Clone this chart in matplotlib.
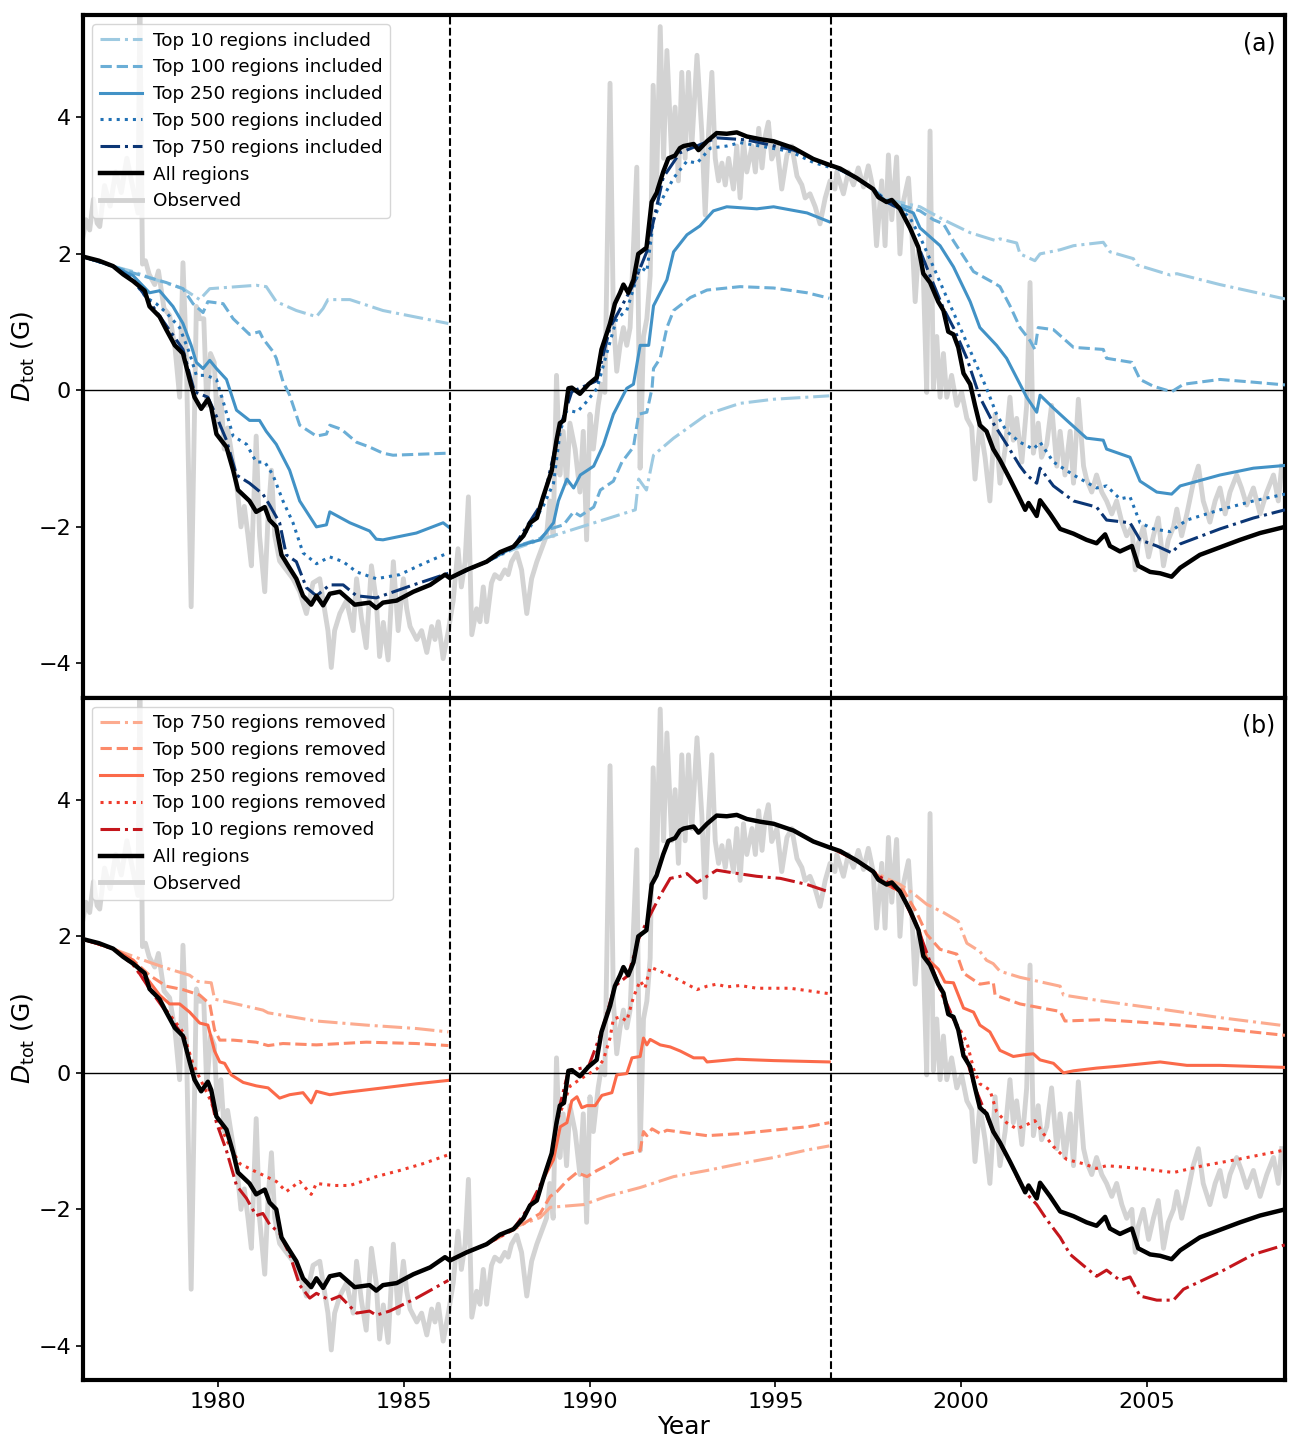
import numpy as np
import matplotlib
matplotlib.use("Agg")
import matplotlib.pyplot as plt

# ---------------- data ----------------
cycle_bounds = [1986.24, 1996.50]

all_yr = [1976.37, 1976.80, 1977.18, 1977.45, 1977.72, 1978.03, 1978.16, 1978.43, 1978.61, 1978.84,
          1979.06, 1979.24, 1979.37, 1979.55, 1979.73, 1979.82, 1979.96, 1980.23, 1980.41, 1980.54,
          1980.85, 1981.03, 1981.26, 1981.39, 1981.57, 1981.71, 1981.89, 1982.11, 1982.29, 1982.51,
          1982.65, 1982.83, 1983.01, 1983.28, 1983.68, 1984.08, 1984.26, 1984.44, 1984.81, 1985.26,
          1985.71, 1986.11, 1986.24, 1986.69, 1987.23, 1987.59, 1987.95, 1988.22, 1988.40, 1988.58,
          1988.75, 1988.98, 1989.11, 1989.20, 1989.31, 1989.43, 1989.52, 1989.74, 1989.97, 1990.19,
          1990.32, 1990.55, 1990.68, 1990.82, 1990.91, 1991.04, 1991.18, 1991.31, 1991.53, 1991.67,
          1991.80, 1991.98, 1992.12, 1992.30, 1992.43, 1992.53, 1992.80, 1992.93, 1993.16, 1993.42,
          1993.69, 1993.96, 1994.23, 1994.59, 1994.95, 1995.49, 1996.02, 1996.47, 1996.74, 1997.19,
          1997.63, 1997.77, 1997.99, 1998.13, 1998.35, 1998.62, 1998.85, 1998.98, 1999.16, 1999.38,
          1999.52, 1999.65, 1999.79, 1999.92, 2000.06, 2000.24, 2000.37, 2000.50, 2000.68, 2000.86,
          2001.04, 2001.31, 2001.54, 2001.72, 2001.81, 2002.03, 2002.12, 2002.39, 2002.66, 2003.02,
          2003.37, 2003.64, 2003.87, 2004.00, 2004.27, 2004.59, 2004.76, 2005.08, 2005.35, 2005.66,
          2005.89, 2006.42, 2006.96, 2007.50, 2008.04, 2008.71]
all_val = [1.96, 1.90, 1.82, 1.70, 1.60, 1.46, 1.23, 1.08, 0.89, 0.66,
           0.54, 0.16, -0.10, -0.27, -0.13, -0.25, -0.64, -0.83, -1.17, -1.46,
           -1.62, -1.78, -1.71, -1.90, -2.00, -2.41, -2.57, -2.76, -3.01, -3.14,
           -3.01, -3.15, -2.98, -2.95, -3.14, -3.11, -3.19, -3.11, -3.08, -2.95,
           -2.85, -2.70, -2.75, -2.63, -2.51, -2.37, -2.29, -2.13, -1.94, -1.87,
           -1.56, -1.18, -0.73, -0.48, -0.44, 0.03, 0.04, -0.05, 0.09, 0.19,
           0.60, 0.98, 1.27, 1.43, 1.55, 1.43, 1.62, 2.00, 2.09, 2.76,
           2.89, 3.20, 3.40, 3.44, 3.55, 3.58, 3.61, 3.52, 3.65, 3.77,
           3.76, 3.78, 3.72, 3.68, 3.65, 3.55, 3.39, 3.30, 3.25, 3.11,
           2.95, 2.83, 2.76, 2.79, 2.66, 2.38, 2.09, 1.71, 1.58, 1.30,
           1.17, 0.86, 0.82, 0.63, 0.25, 0.09, -0.22, -0.51, -0.60, -0.86,
           -1.02, -1.30, -1.55, -1.75, -1.65, -1.84, -1.61, -1.81, -2.03, -2.10,
           -2.19, -2.24, -2.11, -2.28, -2.36, -2.28, -2.57, -2.66, -2.68, -2.73,
           -2.60, -2.41, -2.30, -2.19, -2.09, -2.00]

obs_yr = [1976.37, 1976.45, 1976.55, 1976.65, 1976.75, 1976.82, 1976.95, 1977.10, 1977.25, 1977.40,
          1977.55, 1977.70, 1977.85, 1977.90, 1977.97, 1978.05, 1978.15, 1978.30, 1978.40, 1978.55,
          1978.70, 1978.85, 1978.97, 1979.06, 1979.15, 1979.28, 1979.42, 1979.51, 1979.62, 1979.70,
          1979.80, 1979.90, 1979.99, 1980.08, 1980.17, 1980.26, 1980.44, 1980.53, 1980.62, 1980.71,
          1980.81, 1980.90, 1981.03, 1981.12, 1981.26, 1981.35, 1981.44, 1981.53, 1981.66, 1981.84,
          1982.02, 1982.20, 1982.38, 1982.56, 1982.74, 1982.83, 1982.96, 1983.05, 1983.14, 1983.28,
          1983.46, 1983.64, 1983.73, 1983.86, 1983.99, 1984.13, 1984.26, 1984.35, 1984.45, 1984.58,
          1984.72, 1984.85, 1984.99, 1985.08, 1985.17, 1985.35, 1985.48, 1985.62, 1985.75, 1985.84,
          1985.93, 1986.06, 1986.20, 1986.33, 1986.46, 1986.55, 1986.65, 1986.74, 1986.83, 1986.96,
          1987.05, 1987.14, 1987.23, 1987.36, 1987.45, 1987.59, 1987.72, 1987.81, 1987.90, 1988.04,
          1988.17, 1988.31, 1988.44, 1988.58, 1988.71, 1988.84, 1988.93, 1989.02, 1989.11, 1989.20,
          1989.29, 1989.38, 1989.47, 1989.61, 1989.74, 1989.83, 1989.92, 1990.01, 1990.10, 1990.23,
          1990.32, 1990.41, 1990.55, 1990.64, 1990.73, 1990.82, 1990.91, 1991.00, 1991.09, 1991.27,
          1991.36, 1991.45, 1991.54, 1991.63, 1991.71, 1991.80, 1991.90, 1991.99, 1992.08, 1992.21,
          1992.30, 1992.39, 1992.48, 1992.57, 1992.66, 1992.75, 1992.89, 1993.02, 1993.11, 1993.20,
          1993.29, 1993.38, 1993.47, 1993.56, 1993.65, 1993.74, 1993.87, 1993.96, 1994.05, 1994.14,
          1994.23, 1994.37, 1994.46, 1994.55, 1994.64, 1994.72, 1994.81, 1994.90, 1995.04, 1995.17,
          1995.31, 1995.44, 1995.58, 1995.71, 1995.80, 1995.93, 1996.07, 1996.20, 1996.34, 1996.47,
          1996.60, 1996.65, 1996.83, 1996.96, 1997.10, 1997.23, 1997.37, 1997.50, 1997.63, 1997.72,
          1997.86, 1997.95, 1998.04, 1998.13, 1998.26, 1998.35, 1998.44, 1998.58, 1998.67, 1998.76,
          1998.85, 1998.98, 1999.07, 1999.16, 1999.25, 1999.34, 1999.43, 1999.52, 1999.61, 1999.74,
          1999.88, 2000.01, 2000.15, 2000.28, 2000.37, 2000.50, 2000.64, 2000.77, 2000.91, 2001.04,
          2001.18, 2001.31, 2001.40, 2001.49, 2001.63, 2001.76, 2001.85, 2001.94, 2002.07, 2002.16,
          2002.30, 2002.43, 2002.57, 2002.66, 2002.79, 2002.93, 2003.02, 2003.15, 2003.29, 2003.37,
          2003.51, 2003.64, 2003.78, 2003.91, 2004.05, 2004.18, 2004.32, 2004.45, 2004.59, 2004.68,
          2004.76, 2004.90, 2005.04, 2005.17, 2005.30, 2005.44, 2005.57, 2005.71, 2005.80, 2005.93,
          2006.07, 2006.24, 2006.38, 2006.51, 2006.69, 2006.83, 2006.96, 2007.10, 2007.23, 2007.41,
          2007.54, 2007.68, 2007.86, 2008.04, 2008.22, 2008.40, 2008.53, 2008.62]
obs_val = [2.25, 2.50, 2.35, 2.80, 2.45, 2.40, 3.00, 2.70, 3.20, 2.90,
           3.40, 3.00, 2.60, 5.60, 1.85, 1.90, 1.70, 1.55, 1.75, 1.20,
           1.10, 0.60, -0.10, 1.87, 0.50, -3.17, 1.23, 1.05, 1.05, -0.22,
           0.54, 0.41, -0.54, -0.10, -0.86, -0.55, -1.17, -1.50, -2.00, -1.70,
           -2.13, -2.57, -0.67, -2.13, -2.95, -1.84, -1.17, -2.13, -2.50, -2.63,
           -2.76, -2.95, -3.27, -2.82, -2.76, -3.08, -3.52, -4.06, -3.52, -3.27,
           -3.08, -3.52, -2.76, -3.33, -3.77, -2.57, -3.08, -3.90, -3.40, -3.95,
           -2.51, -3.52, -2.76, -3.20, -3.46, -3.65, -3.52, -3.84, -3.46, -3.65,
           -3.39, -3.93, -3.52, -3.08, -2.32, -2.88, -2.51, -1.56, -3.58, -3.20,
           -3.39, -2.88, -3.39, -2.82, -2.70, -2.76, -2.63, -2.70, -2.51, -2.38,
           -2.63, -3.27, -2.76, -2.51, -2.32, -2.13, -1.62, -2.13, 0.22, -1.24,
           -0.60, -1.36, -0.48, -0.86, -1.49, -0.60, -2.19, -0.35, -0.86, -0.22,
           0.09, -0.03, 4.50, 1.05, 0.28, 0.66, 0.92, 0.66, 0.92, 3.27,
           -1.14, 0.79, 1.05, 1.68, 4.47, 2.95, 5.33, 3.40, 4.98, 3.40,
           4.15, 3.07, 4.66, 3.40, 4.66, 3.58, 4.91, 3.77, 2.57, 3.77,
           4.66, 3.40, 3.07, 3.33, 3.01, 3.40, 2.95, 3.58, 2.82, 3.65,
           3.20, 3.58, 3.20, 3.84, 3.26, 3.71, 3.93, 3.39, 3.58, 2.95,
           3.45, 3.58, 3.14, 3.01, 2.82, 2.88, 2.69, 2.44, 2.82, 3.07,
           2.95, 3.20, 2.88, 3.20, 3.01, 3.26, 2.98, 3.29, 2.95, 2.12,
           3.07, 2.12, 3.45, 2.50, 3.42, 2.00, 2.76, 3.11, 2.31, 1.30,
           2.06, 1.68, -0.03, 3.80, 0.03, 0.79, -0.10, 0.54, -0.10, 0.22,
           -0.22, -0.03, -0.41, -0.54, -1.30, -0.48, -0.98, -1.62, -0.35, -1.36,
           -0.86, -0.10, -0.73, -0.41, -1.05, -0.22, 1.58, -0.92, -0.48, -0.98,
           -0.79, -0.22, -1.11, -0.60, -1.24, -0.60, -1.36, -0.13, -1.11, -1.30,
           -1.49, -1.24, -1.49, -1.62, -1.81, -1.62, -1.93, -2.13, -2.00, -2.63,
           -2.25, -2.00, -2.44, -2.13, -1.87, -2.57, -2.19, -2.00, -1.74, -2.13,
           -1.81, -1.36, -1.11, -1.62, -1.93, -1.62, -1.43, -1.81, -1.49, -1.24,
           -1.43, -1.68, -1.43, -1.81, -1.49, -1.24, -1.62, -1.11]

# --- panel (a): top N regions included; three cycle segments each (year, value)
inc10 = [
    [(1976.37, 1.96), (1977.18, 1.82), (1977.72, 1.74), (1978.34, 1.62), (1979.06, 1.49), (1979.51, 1.33),
     (1979.78, 1.49), (1981.03, 1.54), (1981.30, 1.52), (1981.57, 1.30), (1982.11, 1.17), (1982.65, 1.08),
     (1982.83, 1.20), (1982.96, 1.33), (1983.55, 1.33), (1984.44, 1.17), (1986.20, 0.98)],
    [(1986.24, -2.75), (1986.69, -2.63), (1987.23, -2.51), (1987.95, -2.33), (1988.67, -2.19), (1991.23, -1.75),
     (1991.32, -1.30), (1991.53, -1.46), (1991.72, -0.95), (1992.26, -0.70), (1993.16, -0.35), (1994.05, -0.19),
     (1994.95, -0.13), (1996.45, -0.08)],
    [(1996.50, 3.30), (1997.19, 3.11), (1997.63, 2.95), (1997.99, 2.80), (1998.89, 2.69), (1999.52, 2.50),
     (2000.24, 2.31), (2000.95, 2.19), (2001.04, 2.22), (2001.49, 2.16), (2001.58, 2.00), (2001.98, 1.90),
     (2002.12, 2.00), (2002.66, 2.06), (2003.02, 2.12), (2003.82, 2.17), (2004.00, 2.03), (2004.63, 1.93),
     (2004.72, 1.84), (2005.62, 1.69), (2005.80, 1.71), (2006.96, 1.55), (2008.71, 1.34)],
]
inc100 = [
    [(1976.37, 1.96), (1977.18, 1.82), (1977.72, 1.72), (1978.16, 1.65), (1978.61, 1.58), (1979.06, 1.49),
     (1979.33, 1.27), (1979.60, 1.14), (1979.73, 1.30), (1980.14, 1.27), (1980.41, 1.05), (1980.85, 0.82),
     (1981.12, 0.86), (1981.21, 0.76), (1981.48, 0.57), (1981.57, 0.47), (1981.75, 0.13), (1981.93, -0.07),
     (1982.20, -0.51), (1982.65, -0.67), (1982.92, -0.64), (1983.01, -0.51), (1983.32, -0.57), (1983.73, -0.76),
     (1984.08, -0.83), (1984.44, -0.92), (1984.71, -0.95), (1986.20, -0.92)],
    [(1986.24, -2.75), (1986.69, -2.63), (1987.23, -2.51), (1987.95, -2.30), (1988.67, -2.17), (1988.94, -2.03),
     (1989.30, -1.97), (1989.57, -1.78), (1989.75, -1.84), (1990.11, -1.71), (1990.29, -1.46), (1990.64, -1.33),
     (1990.87, -1.05), (1991.18, -0.83), (1991.32, -0.35), (1991.54, -0.32), (1991.68, 0.03), (1991.72, 0.32),
     (1991.90, 0.47), (1992.08, 0.92), (1992.26, 1.17), (1992.71, 1.36), (1993.16, 1.47), (1994.05, 1.52),
     (1994.95, 1.50), (1995.85, 1.43), (1996.45, 1.35)],
    [(1996.50, 3.30), (1997.19, 3.11), (1997.63, 2.95), (1997.99, 2.78), (1998.89, 2.63), (1999.25, 2.50),
     (1999.52, 2.44), (1999.79, 2.19), (2000.33, 1.74), (2000.86, 1.58), (2001.04, 1.52), (2001.31, 1.24),
     (2001.58, 0.92), (2001.85, 0.73), (2001.98, 0.60), (2002.07, 0.92), (2002.48, 0.89), (2003.02, 0.63),
     (2003.82, 0.60), (2003.91, 0.47), (2004.59, 0.41), (2004.81, 0.16), (2005.17, 0.06), (2005.66, -0.02),
     (2005.98, 0.09), (2006.96, 0.16), (2007.86, 0.12), (2008.71, 0.08)],
]
inc250 = [
    [(1976.37, 1.96), (1977.18, 1.82), (1977.72, 1.68), (1978.16, 1.43), (1978.43, 1.46), (1978.79, 1.23),
     (1979.06, 0.98), (1979.28, 0.66), (1979.42, 0.41), (1979.60, 0.32), (1979.78, 0.44), (1979.96, 0.32),
     (1980.23, 0.16), (1980.50, -0.29), (1980.85, -0.44), (1981.12, -0.44), (1981.30, -0.60), (1981.57, -0.79),
     (1981.93, -1.17), (1982.20, -1.62), (1982.65, -2.00), (1982.92, -1.97), (1983.01, -1.78), (1983.55, -1.94),
     (1984.08, -2.06), (1984.26, -2.18), (1984.44, -2.19), (1985.34, -2.09), (1986.06, -1.94), (1986.20, -2.00)],
    [(1986.24, -2.75), (1986.69, -2.63), (1987.23, -2.51), (1987.95, -2.30), (1988.67, -2.19), (1989.03, -1.94),
     (1989.16, -1.62), (1989.39, -1.30), (1989.57, -1.43), (1989.75, -1.24), (1990.11, -1.11), (1990.37, -0.80),
     (1990.64, -0.35), (1991.00, 0.03), (1991.18, 0.09), (1991.36, 0.66), (1991.59, 0.66), (1991.72, 1.24),
     (1992.08, 1.62), (1992.26, 2.03), (1992.62, 2.28), (1992.97, 2.41), (1993.33, 2.63), (1993.69, 2.69),
     (1994.50, 2.66), (1994.95, 2.69), (1995.85, 2.60), (1996.45, 2.47)],
    [(1996.50, 3.30), (1997.19, 3.11), (1997.63, 2.95), (1997.99, 2.76), (1998.35, 2.68), (1998.71, 2.60),
     (1998.89, 2.38), (1999.43, 2.12), (1999.79, 1.81), (2000.24, 1.30), (2000.50, 0.92), (2000.95, 0.66),
     (2001.22, 0.47), (2001.58, 0.09), (2001.76, -0.10), (2002.03, -0.32), (2002.12, -0.07), (2002.48, -0.26),
     (2002.84, -0.44), (2003.37, -0.70), (2003.82, -0.73), (2003.91, -0.86), (2004.54, -0.98), (2004.81, -1.33),
     (2005.26, -1.49), (2005.66, -1.52), (2005.89, -1.40), (2006.96, -1.24), (2007.86, -1.14), (2008.71, -1.10)],
]
inc500 = [
    [(1976.37, 1.96), (1977.18, 1.82), (1977.72, 1.61), (1978.07, 1.36), (1978.34, 1.27), (1978.61, 1.14),
     (1978.97, 0.92), (1979.24, 0.54), (1979.42, 0.22), (1979.69, 0.22), (1979.96, 0.16), (1980.14, -0.16),
     (1980.41, -0.67), (1980.77, -0.79), (1981.03, -1.05), (1981.26, -1.05), (1981.48, -1.24), (1981.75, -1.62),
     (1982.02, -1.94), (1982.29, -2.38), (1982.65, -2.54), (1983.01, -2.44), (1983.37, -2.51), (1983.73, -2.66),
     (1984.26, -2.76), (1984.89, -2.70), (1985.52, -2.54), (1986.20, -2.38)],
    [(1986.24, -2.75), (1986.69, -2.63), (1987.23, -2.51), (1987.95, -2.30), (1988.40, -2.00), (1988.75, -1.70),
     (1989.03, -1.36), (1989.21, -0.60), (1989.39, -0.29), (1989.66, -0.32), (1989.93, -0.16), (1990.20, 0.03),
     (1990.46, 0.54), (1990.73, 1.05), (1991.00, 1.17), (1991.36, 1.81), (1991.54, 1.74), (1991.72, 2.50),
     (1991.94, 2.79), (1992.26, 3.11), (1992.62, 3.36), (1992.89, 3.33), (1993.25, 3.55), (1993.69, 3.58),
     (1994.05, 3.63), (1994.59, 3.58), (1995.40, 3.50), (1996.02, 3.34), (1996.45, 3.27)],
    [(1996.50, 3.30), (1997.19, 3.11), (1997.63, 2.95), (1997.99, 2.76), (1998.35, 2.66), (1998.62, 2.53),
     (1998.89, 2.25), (1999.25, 1.81), (1999.61, 1.36), (1999.97, 0.92), (2000.33, 0.47), (2000.68, 0.03),
     (2000.95, -0.35), (2001.22, -0.60), (2001.58, -0.76), (2001.94, -0.86), (2002.12, -0.76), (2002.48, -1.05),
     (2003.02, -1.24), (2003.64, -1.43), (2003.91, -1.40), (2004.27, -1.59), (2004.54, -1.56), (2004.81, -1.94),
     (2005.17, -2.03), (2005.62, -2.07), (2006.07, -1.90), (2006.96, -1.75), (2007.86, -1.62), (2008.71, -1.52)],
]
inc750 = [
    [(1976.37, 1.96), (1977.18, 1.82), (1977.72, 1.62), (1978.16, 1.30), (1978.61, 0.95), (1979.06, 0.60),
     (1979.37, -0.02), (1979.73, -0.10), (1979.96, -0.38), (1980.23, -0.73), (1980.50, -1.24), (1980.85, -1.36),
     (1981.21, -1.52), (1981.39, -1.68), (1981.66, -1.94), (1981.84, -2.41), (1982.11, -2.51), (1982.38, -2.89),
     (1982.65, -3.01), (1983.01, -2.85), (1983.37, -2.85), (1983.73, -3.01), (1984.26, -3.04), (1985.26, -2.85),
     (1986.20, -2.68)],
    [(1986.24, -2.75), (1987.23, -2.51), (1987.95, -2.30), (1988.75, -1.62), (1989.20, -0.55), (1989.52, -0.02),
     (1990.19, 0.14), (1990.55, 0.92), (1991.18, 1.55), (1991.53, 2.02), (1991.98, 3.12), (1992.43, 3.48),
     (1993.42, 3.70), (1994.23, 3.67), (1995.49, 3.52), (1996.45, 3.29)],
    [(1996.50, 3.30), (1997.19, 3.11), (1997.63, 2.95), (1997.99, 2.76), (1998.35, 2.66), (1998.62, 2.38),
     (1998.89, 2.05), (1999.16, 1.68), (1999.52, 1.20), (1999.79, 0.92), (2000.15, 0.47), (2000.50, -0.10),
     (2000.86, -0.48), (2001.22, -0.79), (2001.58, -1.11), (2001.76, -1.24), (2002.03, -1.36), (2002.12, -1.14),
     (2002.48, -1.40), (2003.02, -1.62), (2003.64, -1.71), (2003.91, -1.90), (2004.54, -1.94), (2004.81, -2.19),
     (2005.26, -2.28), (2005.66, -2.38), (2005.89, -2.25), (2006.96, -2.03), (2007.86, -1.87), (2008.71, -1.75)],
]

# --- panel (b): top N regions removed
rem750 = [
    [(1976.37, 1.96), (1977.18, 1.82), (1977.36, 1.78), (1978.16, 1.62), (1978.70, 1.52), (1979.24, 1.43),
     (1979.46, 1.34), (1979.82, 1.32), (1979.91, 1.08), (1980.41, 1.02), (1981.21, 0.92), (1981.35, 0.88),
     (1982.65, 0.76), (1983.99, 0.70), (1985.34, 0.65), (1986.20, 0.60)],
    [(1986.24, -2.75), (1986.69, -2.63), (1987.23, -2.51), (1987.77, -2.33), (1988.04, -2.25), (1988.67, -2.12),
     (1988.94, -1.97), (1989.84, -1.93), (1990.46, -1.81), (1991.36, -1.68), (1992.26, -1.52), (1993.16, -1.43),
     (1994.05, -1.33), (1994.95, -1.24), (1995.85, -1.13), (1996.45, -1.07)],
    [(1996.50, 3.30), (1997.19, 3.11), (1997.63, 2.95), (1997.99, 2.85), (1998.35, 2.76), (1998.71, 2.63),
     (1999.07, 2.47), (1999.52, 2.35), (1999.92, 2.22), (2000.15, 1.90), (2000.50, 1.78), (2000.68, 1.65),
     (2000.86, 1.60), (2001.04, 1.49), (2001.58, 1.40), (2002.66, 1.27), (2002.75, 1.14), (2003.82, 1.05),
     (2005.17, 0.95), (2006.07, 0.88), (2006.96, 0.81), (2008.71, 0.69)],
]
rem500 = [
    [(1976.37, 1.96), (1977.18, 1.82), (1977.72, 1.65), (1978.16, 1.43), (1978.61, 1.27), (1979.06, 1.22),
     (1979.51, 1.14), (1979.78, 1.01), (1979.91, 0.63), (1980.05, 0.48), (1980.41, 0.48), (1981.03, 0.45),
     (1981.35, 0.40), (1981.75, 0.43), (1982.65, 0.41), (1983.99, 0.45), (1985.34, 0.43), (1986.20, 0.40)],
    [(1986.24, -2.75), (1986.69, -2.63), (1987.23, -2.51), (1987.95, -2.30), (1988.40, -2.15), (1988.67, -2.06),
     (1988.94, -1.81), (1989.12, -1.74), (1989.39, -1.58), (1989.66, -1.46), (1989.93, -1.52), (1990.20, -1.43),
     (1990.46, -1.36), (1990.91, -1.20), (1991.36, -1.14), (1991.45, -0.86), (1991.54, -0.92), (1991.68, -0.82),
     (1991.90, -0.89), (1992.08, -0.84), (1993.16, -0.92), (1994.05, -0.89), (1994.95, -0.84), (1995.85, -0.79),
     (1996.45, -0.73)],
    [(1996.50, 3.30), (1997.19, 3.11), (1997.63, 2.95), (1997.99, 2.78), (1998.44, 2.68), (1998.80, 2.35),
     (1999.07, 2.03), (1999.43, 1.81), (1999.88, 1.74), (2000.06, 1.46), (2000.50, 1.30), (2000.86, 1.33),
     (2000.91, 1.14), (2001.58, 1.01), (2002.66, 0.90), (2002.79, 0.76), (2003.82, 0.78), (2005.17, 0.73),
     (2006.96, 0.65), (2008.71, 0.55)],
]
rem250 = [
    [(1976.37, 1.96), (1977.18, 1.82), (1977.72, 1.65), (1978.07, 1.40), (1978.43, 1.14), (1978.70, 1.01),
     (1978.97, 1.01), (1979.24, 0.89), (1979.51, 0.73), (1979.73, 0.70), (1979.91, 0.32), (1980.05, 0.16),
     (1980.18, 0.14), (1980.36, -0.03), (1980.68, -0.14), (1981.03, -0.19), (1981.35, -0.22), (1981.66, -0.37),
     (1981.93, -0.32), (1982.29, -0.29), (1982.51, -0.44), (1982.65, -0.27), (1983.01, -0.32), (1983.37, -0.29),
     (1984.44, -0.22), (1985.34, -0.16), (1986.20, -0.11)],
    [(1986.24, -2.75), (1986.69, -2.63), (1987.23, -2.51), (1987.59, -2.37), (1987.95, -2.29), (1988.22, -2.13),
     (1988.40, -1.94), (1988.58, -1.87), (1988.75, -1.56), (1989.03, -1.27), (1989.21, -0.79), (1989.39, -0.73),
     (1989.52, -0.41), (1989.66, -0.35), (1989.79, -0.51), (1989.93, -0.48), (1990.15, -0.48), (1990.33, -0.33),
     (1990.60, -0.29), (1990.73, -0.03), (1991.00, -0.01), (1991.14, 0.22), (1991.36, 0.24), (1991.45, 0.51),
     (1991.54, 0.41), (1991.63, 0.49), (1991.90, 0.41), (1992.17, 0.38), (1992.44, 0.32), (1992.80, 0.22),
     (1993.07, 0.22), (1993.16, 0.16), (1993.96, 0.20), (1994.95, 0.18), (1996.45, 0.16)],
    [(1996.50, 3.30), (1997.19, 3.11), (1997.63, 2.95), (1997.99, 2.76), (1998.35, 2.66), (1998.62, 2.40),
     (1998.89, 2.05), (1999.07, 1.68), (1999.38, 1.52), (1999.56, 1.33), (1999.79, 1.32), (2000.06, 0.95),
     (2000.33, 0.89), (2000.50, 0.70), (2000.77, 0.60), (2001.04, 0.33), (2001.40, 0.24), (2001.76, 0.27),
     (2001.94, 0.28), (2002.12, 0.19), (2002.48, 0.14), (2002.75, 0.00), (2003.02, 0.03), (2003.64, 0.07),
     (2004.27, 0.10), (2005.35, 0.16), (2006.07, 0.11), (2006.96, 0.11), (2008.71, 0.08)],
]
rem100 = [
    [(1976.37, 1.96), (1977.18, 1.82), (1977.72, 1.58), (1978.16, 1.25), (1978.61, 0.92), (1979.06, 0.60),
     (1979.33, 0.13), (1979.78, -0.38), (1980.05, -0.76), (1980.32, -1.08), (1980.59, -1.33), (1980.95, -1.43),
     (1981.30, -1.52), (1981.57, -1.59), (1981.84, -1.74), (1982.20, -1.59), (1982.51, -1.78), (1982.65, -1.62),
     (1983.10, -1.65), (1983.55, -1.65), (1984.26, -1.52), (1984.89, -1.43), (1985.52, -1.33), (1986.20, -1.20)],
    [(1986.24, -2.75), (1986.69, -2.63), (1987.23, -2.51), (1987.59, -2.37), (1987.95, -2.29), (1988.22, -2.13),
     (1988.40, -1.94), (1988.58, -1.87), (1988.75, -1.56), (1988.98, -1.18), (1989.11, -0.73), (1989.31, -0.44),
     (1989.48, -0.19), (1989.84, -0.06), (1990.20, 0.06), (1990.37, 0.19), (1990.55, 0.51), (1990.64, 0.79),
     (1990.82, 0.82), (1991.00, 0.76), (1991.18, 1.11), (1991.36, 1.35), (1991.49, 1.24), (1991.63, 1.55),
     (1991.90, 1.49), (1992.26, 1.40), (1992.62, 1.30), (1992.89, 1.22), (1993.16, 1.27), (1993.42, 1.30),
     (1993.69, 1.26), (1994.05, 1.28), (1994.50, 1.24), (1995.40, 1.24), (1996.45, 1.16)],
    [(1996.50, 3.30), (1997.19, 3.11), (1997.63, 2.95), (1997.99, 2.76), (1998.35, 2.66), (1998.62, 2.38),
     (1998.85, 2.09), (1998.98, 1.71), (1999.16, 1.58), (1999.38, 1.30), (1999.61, 0.95), (1999.97, 0.63),
     (2000.15, 0.45), (2000.33, 0.06), (2000.50, -0.16), (2000.77, -0.25), (2000.95, -0.57), (2001.22, -0.73),
     (2001.49, -0.82), (2001.76, -0.76), (2001.98, -0.70), (2002.21, -0.89), (2002.48, -1.08), (2002.84, -1.27),
     (2003.28, -1.33), (2003.64, -1.40), (2003.91, -1.36), (2004.81, -1.40), (2005.71, -1.46), (2006.51, -1.36),
     (2007.41, -1.27), (2008.71, -1.13)],
]
rem10 = [
    [(1976.37, 1.96), (1977.18, 1.82), (1977.72, 1.60), (1978.16, 1.23), (1978.61, 0.89), (1979.06, 0.54),
     (1979.37, -0.10), (1979.55, -0.27), (1979.73, -0.15), (1979.96, -0.73), (1980.23, -1.14), (1980.50, -1.65),
     (1980.77, -1.84), (1981.03, -2.09), (1981.21, -2.06), (1981.39, -2.22), (1981.66, -2.35), (1981.93, -2.66),
     (1982.20, -3.11), (1982.47, -3.30), (1982.65, -3.23), (1983.01, -3.33), (1983.28, -3.27), (1983.73, -3.52),
     (1984.08, -3.49), (1984.26, -3.55), (1984.62, -3.49), (1985.34, -3.30), (1986.20, -3.04)],
    [(1986.24, -2.75), (1986.69, -2.63), (1987.23, -2.51), (1987.95, -2.29), (1988.40, -1.94), (1988.75, -1.56),
     (1988.98, -1.18), (1989.20, -0.48), (1989.43, 0.03), (1989.97, 0.09), (1990.32, 0.60), (1990.68, 1.27),
     (1991.04, 1.43), (1991.31, 1.95), (1991.54, 2.22), (1991.72, 2.41), (1991.90, 2.60), (1992.17, 2.85),
     (1992.44, 2.88), (1992.62, 2.92), (1992.89, 2.79), (1993.16, 2.88), (1993.42, 2.97), (1993.87, 2.93),
     (1994.50, 2.88), (1995.13, 2.85), (1995.85, 2.76), (1996.45, 2.65)],
    [(1996.50, 3.30), (1997.19, 3.11), (1997.63, 2.95), (1998.35, 2.66), (1998.85, 2.09), (1999.38, 1.30),
     (1999.92, 0.63), (2000.37, -0.22), (2000.86, -0.86), (2001.31, -1.30), (2001.54, -1.57), (2001.76, -1.77),
     (2002.03, -1.93), (2002.30, -2.15), (2002.66, -2.41), (2002.93, -2.66), (2003.28, -2.82), (2003.64, -2.98),
     (2003.91, -2.89), (2004.27, -3.04), (2004.54, -2.99), (2004.81, -3.27), (2005.26, -3.33), (2005.71, -3.33),
     (2005.98, -3.17), (2006.96, -2.92), (2007.86, -2.66), (2008.71, -2.52)],
]

inc_labels = ["Top 10 regions included", "Top 100 regions included", "Top 250 regions included",
              "Top 500 regions included", "Top 750 regions included"]
rem_labels = ["Top 750 regions removed", "Top 500 regions removed", "Top 250 regions removed",
              "Top 100 regions removed", "Top 10 regions removed"]
year_ticks = [1980, 1985, 1990, 1995, 2000, 2005]
value_ticks = [-4, -2, 0, 2, 4]

# ---------------- styling ----------------
inc_colors = ['#9ecae1', '#6baed6', '#4292c6', '#2171b5', '#0b3675']
rem_colors = ['#fcab8f', '#fc8a6a', '#fb6a4a', '#ef3b2c', '#c4161c']
styles = ['-.', '--', '-', ':', '-.']

fig = plt.figure(figsize=(12.97, 14.53), dpi=100)
L, R = 83 / 1297, 1285 / 1297
ax1 = fig.add_axes([L, 1 - 697.5 / 1453, R - L, (697.5 - 15) / 1453])
ax2 = fig.add_axes([L, 1 - 1380 / 1453, R - L, (1380 - 697.5) / 1453], sharex=ax1)


def draw(ax, series, labels, colors, tag):
    for segs, lab, col, ls in zip(series, labels, colors, styles):
        for i, seg in enumerate(segs):
            xs = [p[0] for p in seg]
            ys = [p[1] for p in seg]
            ax.plot(xs, ys, color=col, ls=ls, lw=2.2, label=lab if i == 0 else None, zorder=3)
    ax.plot(all_yr, all_val, color='black', lw=3.2, label='All regions', zorder=4)
    ax.plot(obs_yr, obs_val, color='#d3d3d3', lw=3.5, label='Observed', zorder=1)
    ax.axhline(0, color='black', lw=1.0, zorder=2)
    for b in cycle_bounds:
        ax.axvline(b, color='black', ls='--', lw=1.5, zorder=5)
    ax.set_xlim(1976.37, 2008.71)
    ax.set_ylim(-4.5, 5.5)
    ax.set_yticks(value_ticks)
    ax.set_yticklabels(['\u22124', '\u22122', '0', '2', '4'])
    ax.tick_params(axis='both', labelsize=16, width=1.2, length=5)
    for s in ax.spines.values():
        s.set_linewidth(3)
    ax.set_ylabel(r'$D_{\rm tot}$ (G)', fontsize=18, labelpad=1)
    ax.text(0.992, 0.976, tag, transform=ax.transAxes, ha='right', va='top', fontsize=17)
    leg = ax.legend(loc='upper left', fontsize=13.2, handlelength=2.3, handletextpad=0.6,
                    borderaxespad=0.5, labelspacing=0.48, framealpha=0.8)
    leg.set_zorder(10)


draw(ax1, [inc10, inc100, inc250, inc500, inc750], inc_labels, inc_colors, '(a)')
draw(ax2, [rem750, rem500, rem250, rem100, rem10], rem_labels, rem_colors, '(b)')

ax1.tick_params(axis='x', bottom=False, labelbottom=False)
ax2.set_xticks(year_ticks)
ax2.set_xlabel('Year', fontsize=18, labelpad=2)

fig.savefig('out.png', dpi=100)
